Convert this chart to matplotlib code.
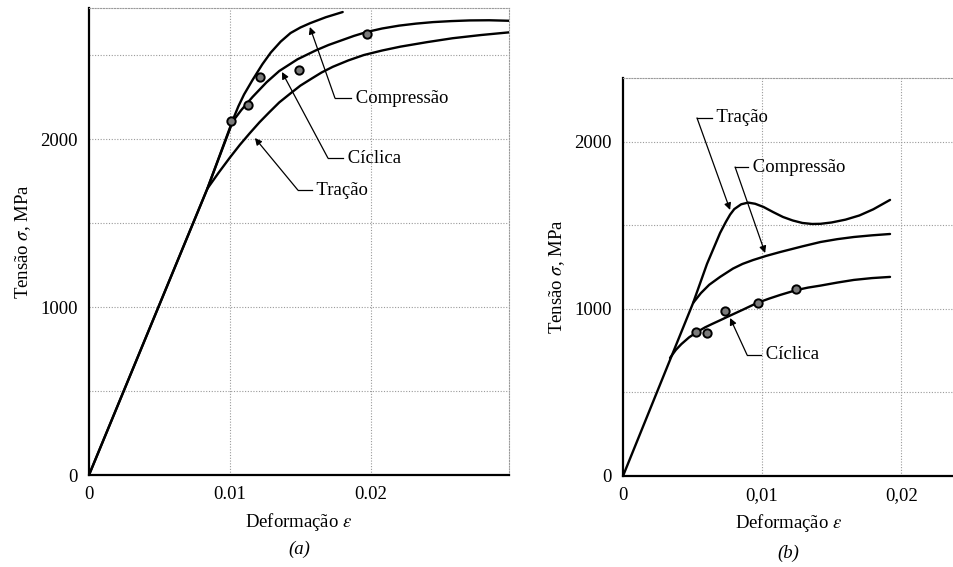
import matplotlib
matplotlib.use("Agg")
import matplotlib.pyplot as plt

plt.rcParams["font.family"] = ["Liberation Serif", "DejaVu Serif"]
plt.rcParams["mathtext.fontset"] = "stix"

# ---- Panel (a): strain / stress (MPa) ----
a_tracao_x = [0.0, 0.00840, 0.0092, 0.0100, 0.0107, 0.0114, 0.0121, 0.0128, 0.0135, 0.0143, 0.0150, 0.0158,
              0.0165, 0.0173, 0.0184, 0.0195, 0.0208, 0.0221, 0.0240, 0.0258, 0.0278, 0.0298]
a_tracao_y = [0, 1705, 1800, 1890, 1965, 2034, 2100, 2160, 2218, 2272, 2318, 2360,
              2396, 2430, 2468, 2500, 2527, 2550, 2577, 2600, 2619, 2635]

a_compr_x = [0.0, 0.00840, 0.0102, 0.0106, 0.0110, 0.0116, 0.0123, 0.0129, 0.0136, 0.0143, 0.0150, 0.0157,
             0.0168, 0.0180]
a_compr_y = [0, 1705, 2113, 2195, 2265, 2351, 2445, 2515, 2580, 2631, 2664, 2690,
             2725, 2756]

a_ciclica_x = [0.00840, 0.0102, 0.0108, 0.0116, 0.0126, 0.0135, 0.0148, 0.0161, 0.0170, 0.0180, 0.0188,
               0.0197, 0.0208, 0.0220, 0.0232, 0.0244, 0.0257, 0.0270, 0.0284, 0.0298]
a_ciclica_y = [1705, 2105, 2172, 2250, 2338, 2405, 2475, 2528, 2560, 2590, 2614,
               2637, 2658, 2675, 2687, 2696, 2702, 2706, 2707, 2704]

a_pts_x = [0.0101, 0.0113, 0.0121, 0.0149, 0.0197]
a_pts_y = [2110, 2200, 2370, 2410, 2625]

# ---- Panel (b) ----
b_tracao_x = [0.0, 0.00504, 0.00604, 0.00698, 0.0074, 0.0077, 0.0080, 0.0085, 0.0090, 0.0095, 0.0101,
              0.0108, 0.0115, 0.0122, 0.0129, 0.0136, 0.0142, 0.0150, 0.0160, 0.0170, 0.0180, 0.0192]
b_tracao_y = [0, 1036, 1270, 1455, 1522, 1565, 1598, 1627, 1637, 1630, 1611,
              1580, 1551, 1530, 1515, 1509, 1510, 1518, 1535, 1560, 1597, 1653]

b_compr_x = [0.00504, 0.00560, 0.00620, 0.00698, 0.00791, 0.00860, 0.00935, 0.0103, 0.0113, 0.0121,
             0.0129, 0.0142, 0.0154, 0.0166, 0.0179, 0.0192]
b_compr_y = [1036, 1095, 1145, 1192, 1242, 1270, 1293, 1318, 1341, 1358,
             1375, 1401, 1418, 1431, 1441, 1449]

b_ciclica_x = [0.00338, 0.00380, 0.00420, 0.00475, 0.00532, 0.00590, 0.00640, 0.00700, 0.00748, 0.00860,
               0.00964, 0.0105, 0.0113, 0.0125, 0.0133, 0.0142, 0.0154, 0.0166, 0.0179, 0.0192]
b_ciclica_y = [707, 755, 790, 830, 862, 890, 910, 933, 952, 995,
               1036, 1062, 1084, 1114, 1128, 1140, 1158, 1174, 1185, 1192]

b_pts_x = [0.00525, 0.00604, 0.00734, 0.00971, 0.01245]
b_pts_y = [862, 856, 988, 1036, 1120]

a_xticks = [0, 0.01, 0.02]
a_xlabels = ["0", "0.01", "0.02"]
b_xticks = [0, 0.01, 0.02]
b_xlabels = ["0", "0,01", "0,02"]
yticks = [0, 1000, 2000]
ytick_labels = ["0", "1000", "2000"]

FS = 13.5
LINE = dict(color="black", lw=1.7, solid_capstyle="round", solid_joinstyle="round", zorder=3)
MARK = dict(ls="none", marker="o", ms=6, mfc="#7a7a7a", mec="black", mew=1.4, zorder=4)
GRID = dict(color="#9a9a9a", lw=0.8, ls=(0, (1, 1.5)))

fig = plt.figure(figsize=(9.54, 5.67), dpi=100)
ax1 = fig.add_axes([89 / 954, 1 - 475 / 567, 420 / 954, 467 / 567])
ax2 = fig.add_axes([623 / 954, 1 - 476 / 567, 331 / 954, 398 / 567])


def style(ax, xmax, ymax, yminor, xticks, xlabels):
    ax.set_xlim(0, xmax)
    ax.set_ylim(0, ymax)
    for y in yminor:
        ax.axhline(y, **GRID, zorder=1)
    for x in xticks[1:]:
        ax.axvline(x, **GRID, zorder=1)
    ax.set_xticks(xticks)
    ax.set_xticklabels(xlabels, fontsize=FS)
    ax.set_yticks(yticks)
    ax.set_yticklabels(ytick_labels, fontsize=FS)
    ax.tick_params(length=0, pad=8)
    for s in ("left", "bottom"):
        ax.spines[s].set_linewidth(1.6)
    for s in ("top", "right"):
        ax.spines[s].set_color("#9a9a9a")
        ax.spines[s].set_linewidth(0.8)
        ax.spines[s].set_linestyle((0, (1, 1.5)))
    ax.set_xlabel(r"Deformação $\varepsilon$", fontsize=FS, labelpad=6)
    ax.set_ylabel(r"Tensão $\sigma$, MPa", fontsize=FS, labelpad=5)


def callout(ax, text, tip, bend, text_x):
    ax.plot([bend[0], text_x], [bend[1], bend[1]], color="black", lw=0.9, zorder=5)
    ax.annotate("", xy=tip, xytext=bend,
                arrowprops=dict(arrowstyle="-|>", color="black", lw=0.9,
                                mutation_scale=10, shrinkA=0, shrinkB=0),
                zorder=5)
    ax.text(text_x, bend[1], " " + text, fontsize=FS, va="center", ha="left")


# Panel (a)
style(ax1, 0.0298, 2780, [500, 1000, 1500, 2000, 2500], a_xticks, a_xlabels)
ax1.plot(a_tracao_x, a_tracao_y, **LINE)
ax1.plot(a_compr_x, a_compr_y, **LINE)
ax1.plot(a_ciclica_x, a_ciclica_y, **LINE)
ax1.plot(a_pts_x, a_pts_y, **MARK)
callout(ax1, "Compressão", (0.01567, 2667), (0.01745, 2244), 0.0186)
callout(ax1, "Cíclica", (0.01369, 2399), (0.01695, 1887), 0.0180)
callout(ax1, "Tração", (0.01177, 2006), (0.01482, 1696), 0.0158)
ax1.text(0.5, -0.16, "(a)", transform=ax1.transAxes, ha="center", va="center",
         fontsize=FS, fontstyle="italic")

# Panel (b)
style(ax2, 0.0238, 2383, [500, 1000, 1500, 2000], b_xticks, b_xlabels)
ax2.spines["right"].set_visible(False)
ax2.plot(b_tracao_x, b_tracao_y, **LINE)
ax2.plot(b_compr_x, b_compr_y, **LINE)
ax2.plot(b_ciclica_x, b_ciclica_y, **LINE)
ax2.plot(b_pts_x, b_pts_y, **MARK)
callout(ax2, "Tração", (0.0077, 1593), (0.00532, 2144), 0.0064)
callout(ax2, "Compressão", (0.01022, 1335), (0.00806, 1850), 0.0090)
callout(ax2, "Cíclica", (0.0077, 946), (0.00892, 725), 0.0099)
ax2.text(0.5, -0.195, "(b)", transform=ax2.transAxes, ha="center", va="center",
         fontsize=FS, fontstyle="italic")

fig.savefig("out.png", dpi=100, facecolor="white")
